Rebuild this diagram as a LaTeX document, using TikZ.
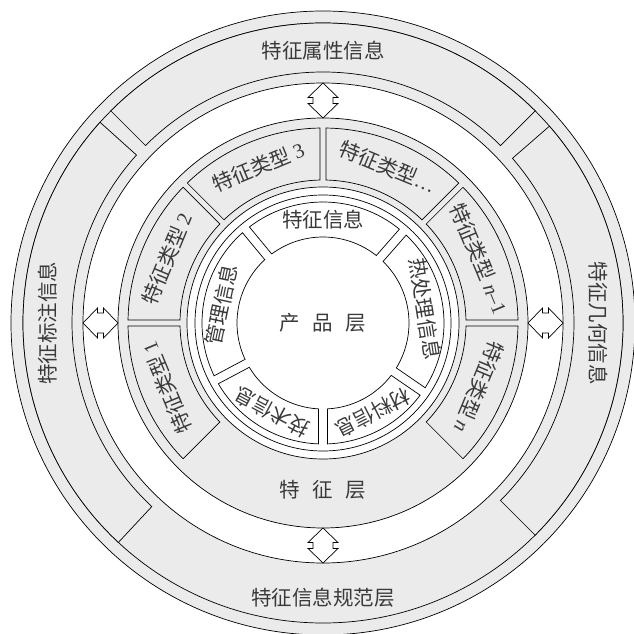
\documentclass[tikz,border=0pt]{standalone}
\usepackage{fontspec}
\setmainfont{Liberation Serif}
\newfontfamily\cjk{Noto Sans CJK SC}
\definecolor{bandgray}{HTML}{EBEBEB}
\definecolor{txtgray}{HTML}{3A3A3A}
\tikzset{
  ringline/.style={draw=black, line width=0.7pt},
  graybox/.style={draw=black, line width=0.7pt, fill=bandgray},
  whitebox/.style={draw=black, line width=0.7pt, fill=white},
  lbl/.style={text=txtgray, font=\cjk\fontsize{20.5}{24}\selectfont, inner sep=0pt},
  dblarrow/.style={draw=black, line width=0.7pt, fill=white, line join=miter},
}
% style, r_in, r_out, angle start, angle end, half gap
\newcommand\sectorbox[6]{%
  \pgfmathsetmacro\sbdO{asin(#6/#3)}%
  \pgfmathsetmacro\sbdI{asin(#6/#2)}%
  \pgfmathsetmacro\sbOs{#4+\sbdO}%
  \pgfmathsetmacro\sbOe{#5-\sbdO}%
  \pgfmathsetmacro\sbIs{#4+\sbdI}%
  \pgfmathsetmacro\sbIe{#5-\sbdI}%
  \draw[#1] (\sbOs:#3pt) arc[start angle=\sbOs, end angle=\sbOe, radius=#3pt]
     -- (\sbIe:#2pt) arc[start angle=\sbIe, end angle=\sbIs, radius=#2pt] -- cycle;
}
\newcommand\layerarrow[1]{%
  \begin{scope}[rotate=#1]
    \draw[dblarrow] (205pt,0pt) -- (219.5pt,15pt) -- (219.5pt,10pt) -- (225.5pt,10pt)
      -- (225.5pt,15pt) -- (240pt,0pt) -- (225.5pt,-15pt) -- (225.5pt,-10pt)
      -- (219.5pt,-10pt) -- (219.5pt,-15pt) -- cycle;
  \end{scope}}
\begin{document}
\begin{tikzpicture}
\useasboundingbox (0pt,0pt) rectangle (634pt,633pt);
\begin{scope}[shift={(323pt,310pt)}]
  % bands
  \fill[bandgray] (0,0) circle[radius=312pt];
  \fill[white] (0,0) circle[radius=240pt];
  \fill[bandgray] (0,0) circle[radius=205pt];
  \fill[white] (0,0) circle[radius=136pt];
  \foreach \r in {312,300,240,205,136,128}
    \draw[ringline] (0,0) circle[radius=\r pt];
  % outer boxes
  \sectorbox{graybox}{251}{300}{45}{135}{0}
  \sectorbox{graybox}{251}{300}{138}{227}{0}
  \sectorbox{graybox}{251}{300}{-45}{41}{0}
  % feature type boxes
  \sectorbox{graybox}{143}{195}{180}{225}{3}
  \sectorbox{graybox}{143}{195}{135}{180}{3}
  \sectorbox{graybox}{143}{195}{90}{135}{3}
  \sectorbox{graybox}{143}{195}{45}{90}{3}
  \sectorbox{graybox}{143}{195}{0}{45}{3}
  \sectorbox{graybox}{143}{195}{-45}{0}{3}
  % product boxes
  \sectorbox{whitebox}{86}{121}{48.7}{129.6}{4.5}
  \sectorbox{whitebox}{86}{121}{129.6}{208}{4.5}
  \sectorbox{whitebox}{86}{121}{208}{270}{4.5}
  \sectorbox{whitebox}{86}{121}{270}{325.5}{4.5}
  \sectorbox{whitebox}{86}{121}{-34.5}{48.7}{4.5}
  % arrows
  \layerarrow{90}
  \layerarrow{180}
  \layerarrow{0}
  \layerarrow{270}
  % outer labels
  \node[lbl] (attr) at (90:272pt) {特征属性信息};
  \node[lbl, rotate=90] (mark) at (180:275pt) {特征标注信息};
  \node[lbl, rotate=-90] (geom) at (0:275pt) {特征几何信息};
  \node[lbl] (spec) at (270:275pt) {特征信息规范层};
  % feature layer labels
  \node[lbl] (feat) at (270:167pt) {特\hspace{0.6em}征\hspace{0.6em}层};
  \node[lbl, rotate=112.5] (ft1) at (202.5:169pt) {特征类型 {\rmfamily 1}};
  \node[lbl, rotate=67.5] (ft2) at (157.5:169pt) {特征类型 {\rmfamily 2}};
  \node[lbl, rotate=22.5] (ft3) at (112.5:169pt) {特征类型 {\rmfamily 3}};
  \node[lbl, rotate=-22.5] (ftd) at (67.5:169pt) {特征类型{\rmfamily\ldots}};
  \node[lbl, rotate=-67.5] (ftn1) at (22.5:169pt) {特征类型 {\rmfamily\itshape n}{\rmfamily\textendash 1}};
  \node[lbl, rotate=-112.5] (ftn) at (-22.5:169pt) {特征类型 {\rmfamily\itshape n}};
  % product layer labels
  \node[lbl] (prod) at (0,0) {产\hspace{0.6em}品\hspace{0.6em}层};
  \node[lbl] (pfeat) at (90:103pt) {特征信息};
  \node[lbl, rotate=78] (pman) at (170:103pt) {管理信息};
  \node[lbl, rotate=152] (ptech) at (240:103pt) {技术信息};
  \node[lbl, rotate=207] (pmat) at (299:103pt) {材料信息};
  \node[lbl, rotate=-81] (pheat) at (8:103pt) {热处理信息};
\end{scope}
\end{tikzpicture}
\end{document}
